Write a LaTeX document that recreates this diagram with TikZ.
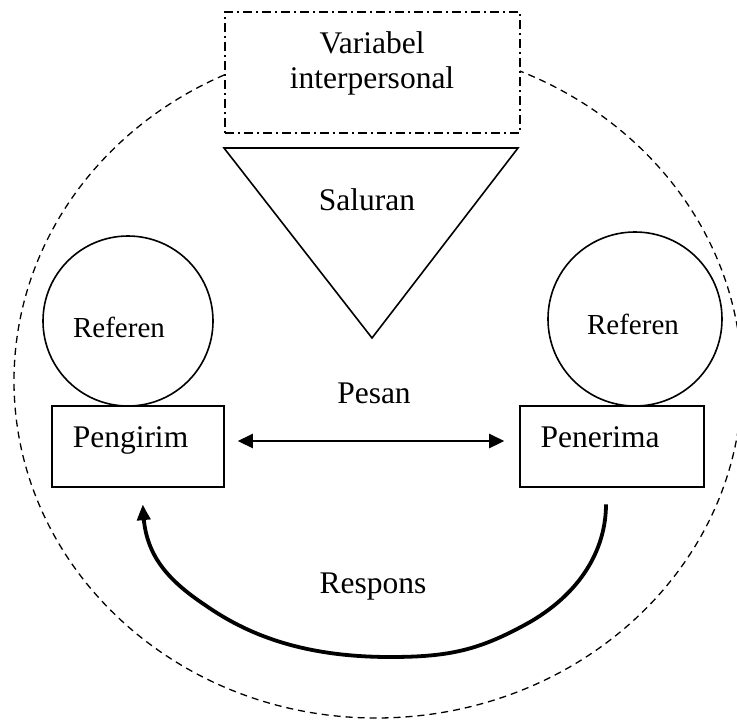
\documentclass[tikz,border=0pt]{standalone}
\usepackage{fontspec}
\setmainfont{Liberation Serif}
\usetikzlibrary{arrows.meta,bending}
\begin{document}
\begin{tikzpicture}[x=1pt,y=-1pt,
  shapeline/.style={draw=black,line width=1.6pt},
  lbl/.style={font=\fontsize{31.5}{35}\selectfont,inner sep=0pt},
  reflbl/.style={font=\fontsize{29}{33}\selectfont,inner sep=0pt},
  boxnode/.style={shapeline,rectangle,inner sep=0pt,minimum height=81pt},
  refcircle/.style={shapeline,circle,inner sep=0pt}]
\useasboundingbox (0,0) rectangle (737,720);
% outer dashed boundary
\draw[line width=1.3pt, dash pattern=on 7pt off 5pt]
  (376,44) arc[start angle=90, end angle=270, x radius=362pt, y radius=337pt]
  arc[start angle=270, end angle=450, x radius=366pt, y radius=337pt];
% interpersonal variable box
\node[shapeline, fill=white, dash pattern=on 9pt off 4pt on 2pt off 4pt,
  minimum width=295pt, minimum height=121pt, inner sep=0pt] (var) at (372.5,72.5) {};
\node[lbl, align=center] (vartext) at (372,63) {Variabel\\interpersonal};
% channel triangle
\coordinate (tl) at (224,148);
\coordinate (tr) at (518,148);
\coordinate (tb) at (372,338);
\draw[shapeline, line join=miter] (tl) -- (tr) -- (tb) -- cycle;
\node[lbl, anchor=base] (sal) at (367,210) {Saluran};
% referents
\node[refcircle, minimum size=170pt] (refL) at (128,321) {};
\node[refcircle, minimum size=174pt] (refR) at (635,319) {};
\node[reflbl, anchor=base] (refLt) at (119,337) {Referen};
\node[reflbl, anchor=base] (refRt) at (633,334) {Referen};
% sender / receiver
\node[boxnode, minimum width=172pt] (peng) at (138,446.5) {};
\node[boxnode, minimum width=184pt] (pener) at (612,446.5) {};
\node[lbl, anchor=base] (pengt) at (130.5,447) {Pengirim};
\node[lbl, anchor=base] (penert) at (600,447) {Penerima};
% message
\node[lbl, anchor=base] (pesan) at (374,403) {Pesan};
\draw[line width=2.6pt, {Triangle[length=15pt,width=14pt]}-{Triangle[length=15pt,width=14pt]}]
  ([xshift=13pt,yshift=5.5pt]peng.east) -- ([xshift=-15pt,yshift=5.5pt]pener.west);
% response
\node[lbl, anchor=base] (resp) at (373,593) {Respons};
\draw[line width=3.8pt, line cap=butt, -{Triangle[length=16pt,width=13pt,bend]}]
  ([xshift=-6pt,yshift=-16.5pt]pener.south)
  .. controls (606,545) and (585,590) .. (530,622)
  .. controls (480,650) and (450,657) .. (390,657)
  .. controls (300,657) and (245,633) .. (205,605)
  .. controls (160,575) and (143,548) .. ([xshift=5pt,yshift=-16.5pt]peng.south);
\end{tikzpicture}
\end{document}
